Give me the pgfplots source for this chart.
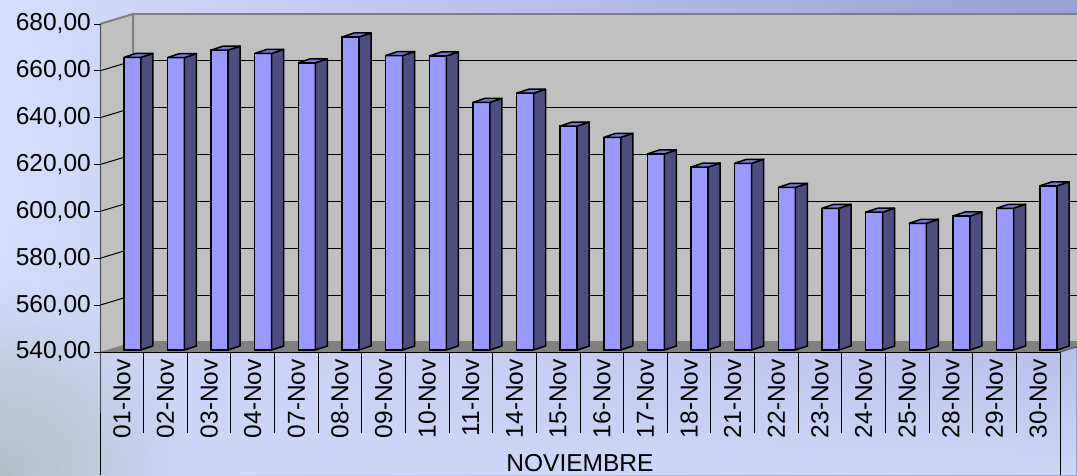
\documentclass[border=0pt]{standalone}
\usepackage{pgfplots}
\pgfplotsset{compat=1.18}
\usepackage{pgfplotstable}
\usetikzlibrary{fadings}
\usepackage{fontspec}
\setmainfont{Liberation Sans}
\definecolor{frontcol}{HTML}{9999FF}
\definecolor{sidecol}{HTML}{4D4D80}
\definecolor{topcol}{HTML}{7878DC}
\definecolor{wallcol}{HTML}{C0C0C0}
\definecolor{floorcol}{HTML}{808080}
\definecolor{bgL}{HTML}{D6DEFC}
\definecolor{bgR}{HTML}{98A0D6}
\definecolor{bgB}{HTML}{CFD7F7}
\definecolor{bgG}{HTML}{B2BEC6}
\tikzfading[name=myradial, inner color=transparent!0, outer color=transparent!100]

\pgfplotstableread{
idx val
0 664.9
1 664.8
2 668.0
3 666.6
4 662.6
5 673.6
6 665.7
7 665.5
8 645.7
9 649.6
10 635.6
11 630.8
12 623.7
13 618.1
14 619.7
15 609.4
16 600.5
17 598.8
18 594.1
19 597.2
20 600.5
21 610.1
}\datatable

\pgfdeclareplotmark{bar3d}{%
  \pgfmathsetmacro\hh{(\vv-540)*2.342857}%
  \pgfmathsetmacro\hb{4-\hh}%
  \pgfmathsetmacro\hc{-\hh}%
  \pgfscope
  \pgfsetlinewidth{1.5pt}%
  \pgfsetroundjoin
  \pgfsetstrokecolor{black}%
  \pgfsetfillcolor{sidecol}%
  \pgfpathmoveto{\pgfqpoint{19pt}{0pt}}%
  \pgfpathlineto{\pgfqpoint{31pt}{4pt}}%
  \pgfpathlineto{\pgfpoint{31pt}{\hb pt}}%
  \pgfpathlineto{\pgfpoint{19pt}{\hc pt}}%
  \pgfpathclose
  \pgfusepath{fill,stroke}%
  \pgfsetfillcolor{topcol}%
  \pgfpathmoveto{\pgfqpoint{2pt}{0pt}}%
  \pgfpathlineto{\pgfqpoint{19pt}{0pt}}%
  \pgfpathlineto{\pgfqpoint{31pt}{4pt}}%
  \pgfpathlineto{\pgfqpoint{14pt}{4pt}}%
  \pgfpathclose
  \pgfusepath{fill,stroke}%
  \endpgfscope
}

\begin{document}
\begin{tikzpicture}
\useasboundingbox (0,0) rectangle (1077pt,475pt);
\clip (0,0) rectangle (1077pt,475pt);
\shade[left color=bgL, right color=bgR] (0,0) rectangle (1077pt,475pt);
\fill[bgB, path fading=north] (0,0) rectangle (1077pt,300pt);
\fill[bgG, path fading=myradial] (0,0) circle (190pt);

% back wall
\begin{axis}[
  at={(133pt,133pt)}, anchor=south west,
  scale only axis, width=960pt, height=328pt,
  xmin=-0.5, xmax=21.5, ymin=540, ymax=680,
  xtick=\empty, ytick={560,580,...,660}, yticklabels={},
  major tick length=0pt,
  ymajorgrids, major grid style={black, line width=1pt},
  axis background/.style={fill=wallcol},
  axis line style={draw=floorcol, line width=2pt},
  clip=false,
]
\fill[wallcol] ([shift={(-33pt,-10pt)}]axis cs:-0.5,540) -- (axis cs:-0.5,540)
   -- (axis cs:-0.5,680) -- ([shift={(-33pt,-10pt)}]axis cs:-0.5,680) -- cycle;
\pgfplotsinvokeforeach{560,580,600,620,640,660}{
  \draw[black, line width=1pt] ([shift={(-33pt,-10pt)}]axis cs:-0.5,#1) -- (axis cs:-0.5,#1);
}
\draw[floorcol, line width=2pt] ([shift={(-33pt,-10pt)}]axis cs:-0.5,680) -- (axis cs:-0.5,680) -- (axis cs:-0.5,540);
\fill[floorcol] ([shift={(-33pt,-10pt)}]axis cs:-0.5,540) -- ([shift={(-33pt,-10pt)}]axis cs:21.5,540)
   -- (axis cs:21.5,540) -- (axis cs:-0.5,540) -- cycle;
\end{axis}

% bars
\begin{axis}[
  at={(100pt,125pt)}, anchor=south west,
  scale only axis, width=960pt, height=328pt,
  xmin=-0.5, xmax=21.5, ymin=540, ymax=680,
  hide axis,
]
\addplot[ybar, bar width=17pt, bar shift=10.5pt, fill=frontcol, draw=black, line width=1.5pt]
  table[x=idx, y=val]{\datatable};
\addplot[only marks, mark=bar3d, visualization depends on={rawy \as \vv}]
  table[x=idx, y=val]{\datatable};
\end{axis}

% front axis
\begin{axis}[
  at={(100pt,123pt)}, anchor=south west,
  scale only axis, width=960pt, height=328pt,
  xmin=-0.5, xmax=21.5, ymin=540, ymax=680,
  axis line style={draw=none},
  ytick={540,560,...,680},
  xtick={0,...,21},
  xticklabels={01-Nov,02-Nov,03-Nov,04-Nov,07-Nov,08-Nov,09-Nov,10-Nov,11-Nov,14-Nov,15-Nov,16-Nov,17-Nov,18-Nov,21-Nov,22-Nov,23-Nov,24-Nov,25-Nov,28-Nov,29-Nov,30-Nov},
  xtick pos=left, ytick pos=left,
  xtick style={draw=none},
  ytick style={black, line width=1pt},
  tick align=outside, major tick length=6pt,
  tick label style={font=\fontsize{24.5}{28}\selectfont},
  xticklabel style={rotate=90, anchor=east, inner sep=0pt, xshift=-1pt},
  yticklabel style={anchor=east, inner sep=0pt, xshift=-3pt},
  yticklabel={\pgfmathprintnumber{\tick}},
  /pgf/number format/.cd, fixed, fixed zerofill, precision=2, use comma, 1000 sep={}, assume math mode=true,
  /pgfplots/.cd,
  clip=false,
]
\draw[black, line width=1pt] (axis cs:-0.5,680) -- (axis cs:-0.5,540) -- ++(0pt,-123pt);
\draw[black, line width=1pt] (axis cs:-0.5,540) -- (axis cs:21.5,540) -- ++(0pt,-123pt);
\draw[floorcol!60!black, line width=1pt] (axis cs:21.5,540) -- ++(33pt,10pt);
\pgfplotsinvokeforeach{0.5,1.5,...,20.5}{
  \draw[black, line width=1pt] (axis cs:#1,540) -- ++(0pt,-81pt);
}
\node[font=\fontsize{24.5}{28}\selectfont, anchor=base] at ([yshift=-119pt]axis cs:10.5,540) {NOVIEMBRE};
\end{axis}
\end{tikzpicture}
\end{document}
